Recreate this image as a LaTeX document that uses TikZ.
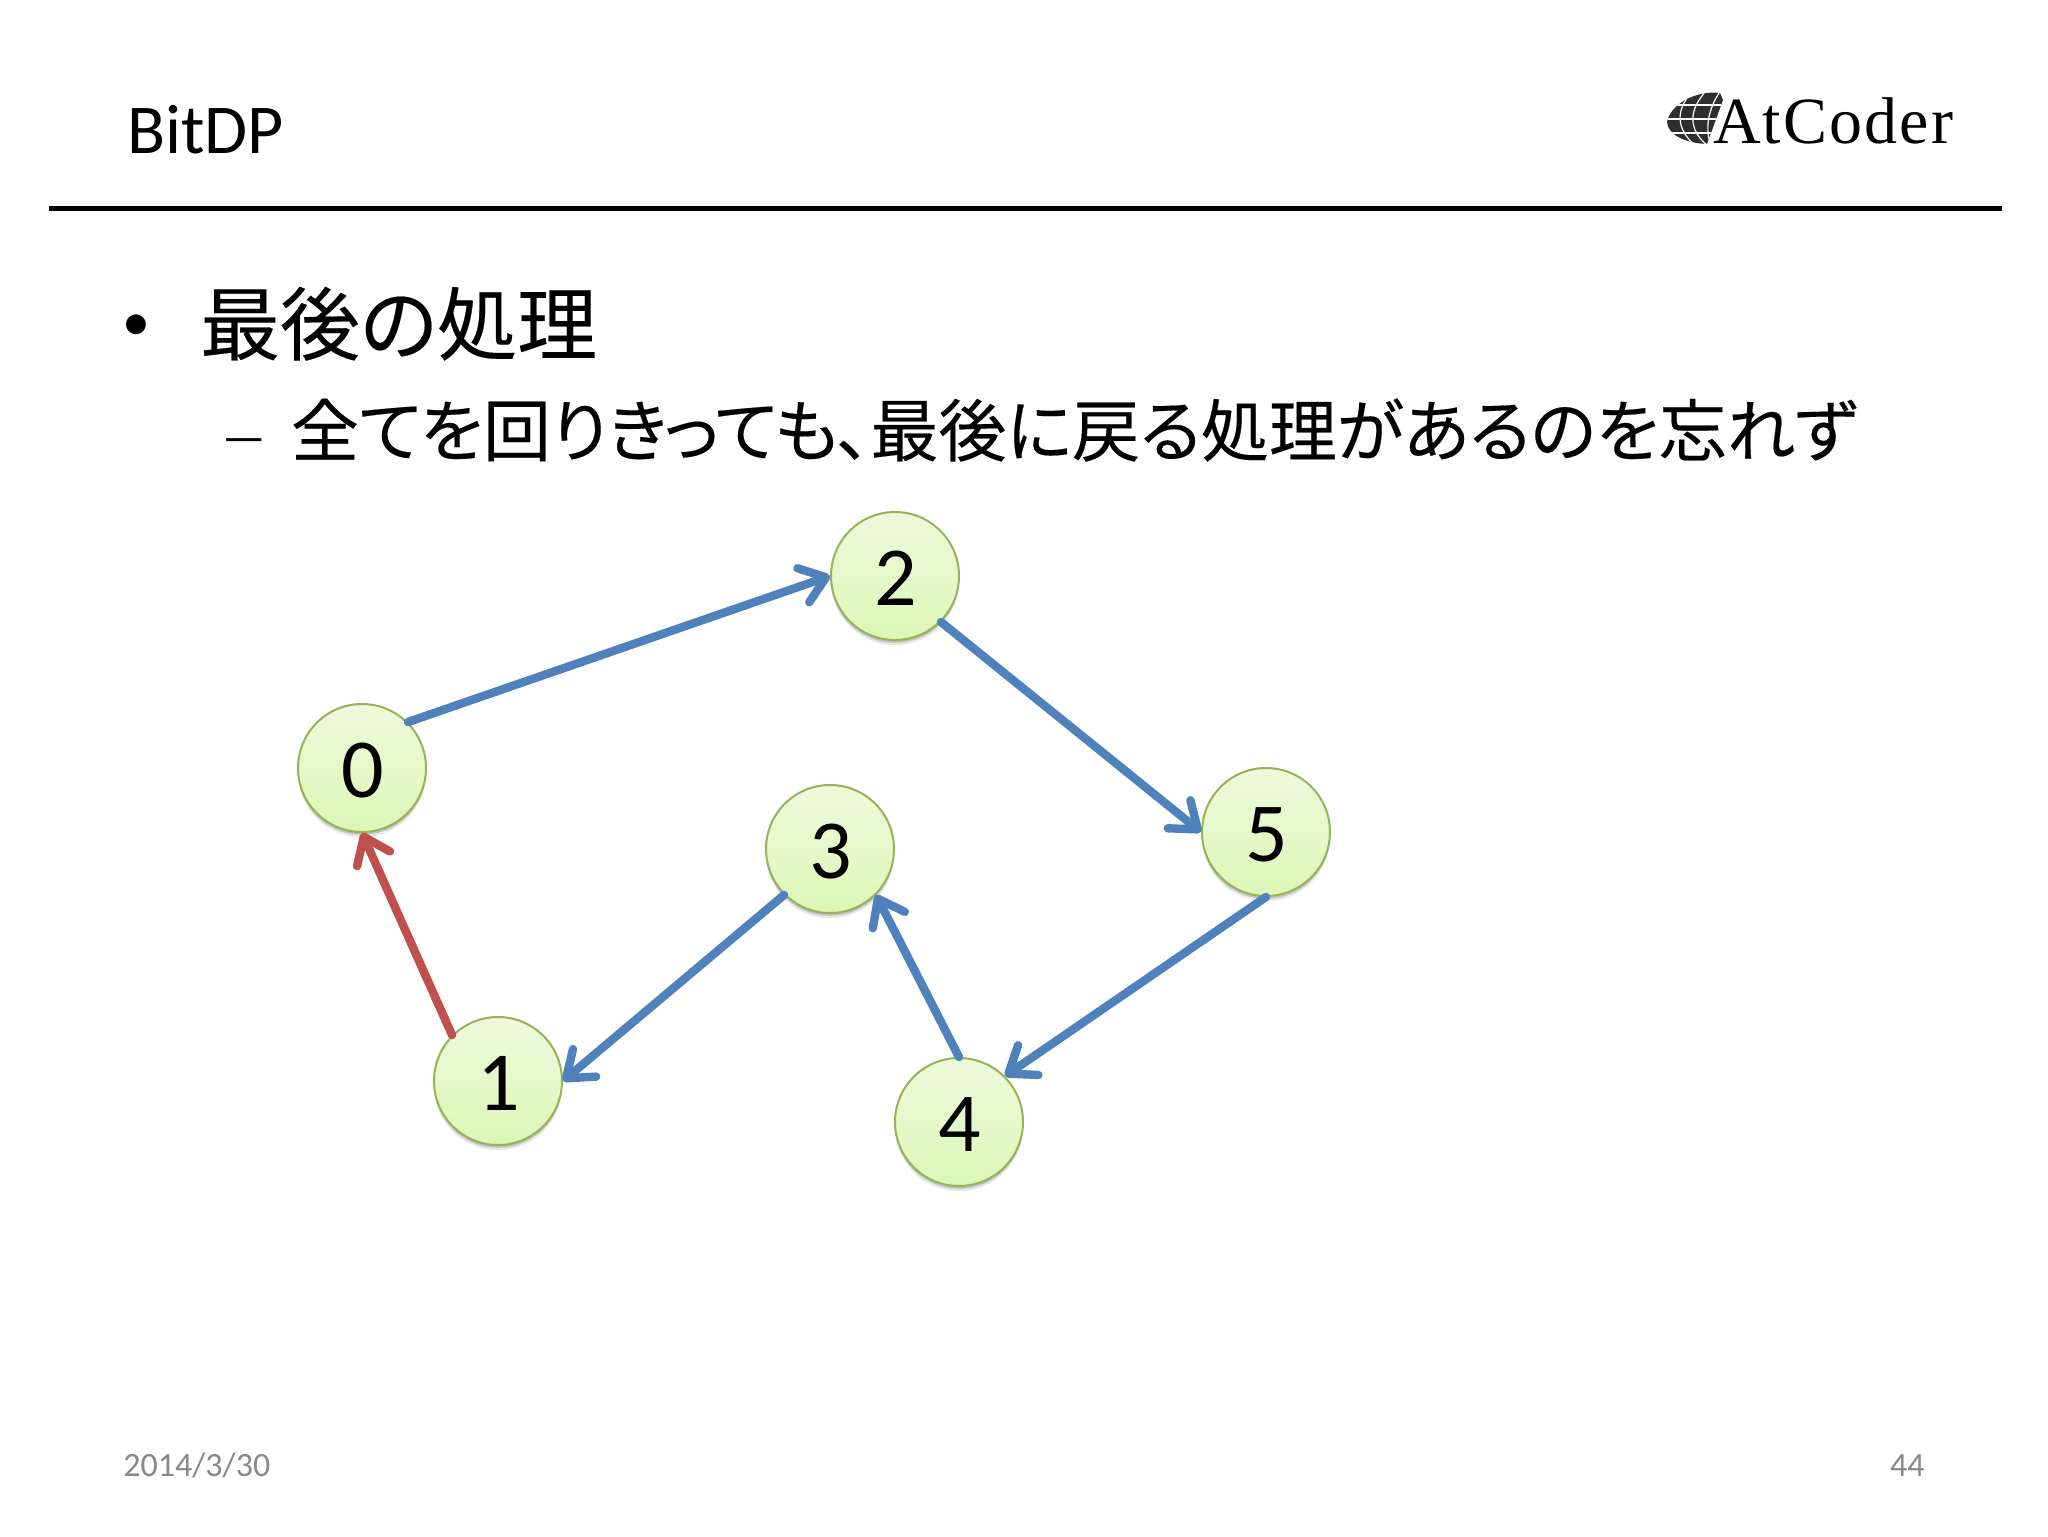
\documentclass[tikz,border=0pt]{standalone}
\usepackage{fontspec}
\usetikzlibrary{arrows.meta,shadows}
\setmainfont{Carlito}
\newfontfamily\jpfont[RawFeature=+palt,FakeBold=0.25]{Noto Sans CJK JP}
\newfontfamily\logofont[LetterSpace=3.2]{Liberation Serif}
\definecolor{edgeblue}{HTML}{4F81BD}
\definecolor{edgered}{HTML}{C0504D}
\definecolor{nodeedge}{HTML}{94B455}
\definecolor{foot}{HTML}{898989}
\tikzset{
  vertex/.style={circle,draw=nodeedge,line width=1pt,minimum size=64pt,inner sep=0pt,
    shade,top color={rgb,255:red,238;green,250;blue,220},bottom color={rgb,255:red,220;green,247;blue,182},
    drop shadow={shadow xshift=0pt,shadow yshift=-2.6pt,opacity=.09,fill=black},
    drop shadow={shadow xshift=0pt,shadow yshift=-1.4pt,opacity=.16,fill=black},
    font=\fontsize{42}{42}\selectfont,text=black},
  edgeline/.style={line width=4.2pt,line cap=round,-{Straight Barb[length=12pt,width=18pt,round]},
    preaction={draw=black,opacity=.10,transform canvas={yshift=-1.5pt}}},
  bluelink/.style={edgeline,draw=edgeblue},
  redlink/.style={edgeline,draw=edgered},
  plain/.style={inner sep=0pt,outer sep=0pt,text=black},
  footer/.style={inner sep=0pt,text=foot,font=\fontsize{17}{17}\selectfont},
}
\newcommand{\lowered}[1]{\rule{0pt}{29.5pt}\hspace{.8pt}#1}
\begin{document}
\begin{tikzpicture}[x=0.5pt,y=-0.5pt]
\useasboundingbox (0,0) rectangle (2048,1536);
\fill[white] (0,0) rectangle (2048,1536);
% header
\node[plain,anchor=base west,font=\fontsize{35}{35}\selectfont] (title) at (127,154) {BitDP};
\coordinate (ruleL) at (49,208);
\coordinate (ruleR) at (2002,208);
\draw[line width=2.5pt,black] (ruleL) -- (ruleR);
% logo
\begin{scope}
  \clip (1720,93) .. controls (1695,90) and (1670,105) .. (1667,122)
     .. controls (1668,135) and (1685,143) .. (1707,144)
     -- (1723,100) -- cycle;
  \fill[black!82] (1660,88) rectangle (1730,148);
  \draw[white,line width=.6pt] (1660,105) -- (1730,105) (1660,119) -- (1730,119) (1660,133) -- (1730,133);
  \draw[white,line width=.6pt] (1692,92) .. controls (1675,110) and (1676,130) .. (1696,146);
  \draw[white,line width=.6pt] (1707,90) .. controls (1688,110) and (1688,130) .. (1708,146);
  \draw[white,line width=.6pt] (1721,90) .. controls (1707,110) and (1705,130) .. (1711,146);
\end{scope}
\node[plain,anchor=base west,font={\logofont\fontsize{33}{33}\selectfont}] (logo) at (1713,143) {AtCoder};
% bullets
\node[plain,anchor=base west,font=\fontsize{28}{28}\selectfont] (b1) at (122,340) {•};
\node[plain,anchor=base west,font={\jpfont\fontsize{40}{40}\selectfont}] (t1) at (200,354) {最後の処理};
\node[plain,anchor=base west,font=\fontsize{24}{24}\selectfont] (b2) at (222,453) {—};
\node[plain,anchor=base west,font={\jpfont\fontsize{34}{34}\selectfont}] (t2) at (291,456) {全てを回りきっても、最後に戻る処理があるのを忘れず};
% graph
\node[vertex] (n2) at (895,576) {\lowered{2}};
\node[vertex] (n0) at (362,768) {\lowered{0}};
\node[vertex] (n3) at (830,849) {\lowered{3}};
\node[vertex] (n5) at (1266,832) {\lowered{5}};
\node[vertex] (n1) at (498,1081) {\lowered{1}};
\node[vertex] (n4) at (959,1122) {\lowered{4}};
\draw[bluelink] (n0.north east) -- (n2.west);
\draw[bluelink] (n2.south east) -- (n5.west);
\draw[bluelink] (n5.south) -- (n4.north east);
\draw[bluelink] (n4.north) -- (n3.south east);
\draw[bluelink] (n3.south west) -- (n1.east);
\draw[redlink] (n1.north west) -- (n0.south);
% footer
\node[footer,anchor=base west] (date) at (123,1476) {2014/3/30};
\node[footer,anchor=base east] (page) at (1925,1476) {44};
\end{tikzpicture}
\end{document}
